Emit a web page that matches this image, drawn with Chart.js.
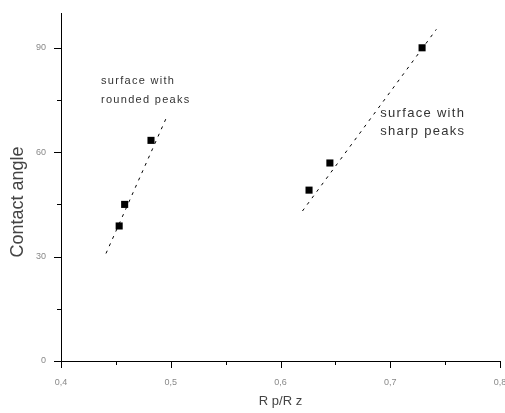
<!DOCTYPE html>
<html><head><meta charset="utf-8">
<script src="https://cdn.jsdelivr.net/npm/chart.js@4/dist/chart.umd.min.js"></script>
<style>html,body{margin:0;padding:0;background:#fff}#wrap{width:505px;height:413px}</style>
</head><body><div id="wrap"><canvas id="c" width="505" height="413"></canvas></div>
<script>
// Data
const roundedX = [0.453, 0.458, 0.482];
const roundedY = [38.8, 45.0, 63.4];
const roundedFitX = [0.441, 0.497];
const roundedFitY = [30.9, 70.6];
const sharpX = [0.626, 0.645, 0.729];
const sharpY = [49.1, 56.9, 90.0];
const sharpFitX = [0.620, 0.742];
const sharpFitY = [43.1, 95.3];
const xTicks = [0.4, 0.5, 0.6, 0.7, 0.8];
const yTicks = [0, 30, 60, 90];
const labels = [
  {text: 'surface with', x: 0.4364, y: 80.5, size: 11},
  {text: 'rounded peaks', x: 0.4364, y: 75.0, size: 11},
  {text: 'surface with', x: 0.6909, y: 71.0, size: 13},
  {text: 'sharp peaks', x: 0.6909, y: 66.1, size: 13}
];

const pts = (xs, ys) => xs.map((x, i) => ({x, y: ys[i]}));

const tickPlugin = {
  id: 'ticksAndLabels',
  afterDraw(chart) {
    const ctx = chart.ctx, xs = chart.scales.x, ys = chart.scales.y;
    const a = chart.chartArea;
    ctx.save();
    ctx.strokeStyle = '#000'; ctx.lineWidth = 1;
    for (let v = 0.4; v <= 0.8001; v += 0.05) {
      const major = Math.abs(Math.round(v * 10) - v * 10) < 1e-6;
      const px = Math.round(xs.getPixelForValue(v)) + 0.5;
      ctx.beginPath(); ctx.moveTo(px, a.bottom); ctx.lineTo(px, a.bottom + (major ? 7 : 4)); ctx.stroke();
    }
    for (let v = 0; v <= 90.001; v += 15) {
      const major = v % 30 === 0;
      const py = Math.round(ys.getPixelForValue(v)) + 0.5;
      ctx.beginPath(); ctx.moveTo(a.left, py); ctx.lineTo(a.left - (major ? 7 : 4), py); ctx.stroke();
    }
    ctx.fillStyle = '#333';
    ctx.letterSpacing = '1.3px';
    ctx.textBaseline = 'middle'; ctx.textAlign = 'left';
    labels.forEach(l => {
      ctx.font = l.size + 'px "Liberation Sans", Arial, sans-serif';
      ctx.fillText(l.text, xs.getPixelForValue(l.x), ys.getPixelForValue(l.y));
    });
    ctx.restore();
  }
};

new Chart(document.getElementById('c'), {
  type: 'scatter',
  data: {
    datasets: [
      {data: pts(roundedFitX, roundedFitY), showLine: true, borderColor: '#000', borderWidth: 1, borderDash: [3, 5], pointRadius: 0},
      {data: pts(sharpFitX, sharpFitY), showLine: true, borderColor: '#000', borderWidth: 1, borderDash: [3, 5], pointRadius: 0},
      {data: pts(roundedX, roundedY), pointStyle: 'rect', pointRadius: 5, backgroundColor: '#000', borderColor: '#000', borderWidth: 0},
      {data: pts(sharpX, sharpY), pointStyle: 'rect', pointRadius: 5, backgroundColor: '#000', borderColor: '#000', borderWidth: 0}
    ]
  },
  options: {
    responsive: false, animation: false,
    layout: {padding: {top: 13, right: 5, left: 0, bottom: 0}},
    plugins: {legend: {display: false}, tooltip: {enabled: false}},
    scales: {
      x: {
        type: 'linear', min: 0.4, max: 0.8,
        afterBuildTicks: s => { s.ticks = xTicks.map(v => ({value: v})); },
        afterFit: s => { s.paddingLeft = 0; s.paddingRight = 0; s.height = 52; },
        grid: {display: false},
        border: {display: true, color: '#000', width: 1},
        ticks: {padding: 8, color: '#888', font: {family: '"Liberation Sans", Arial', size: 9},
          callback: v => v.toFixed(1).replace('.', ','), maxRotation: 0},
        title: {display: true, text: 'R p/R z', color: '#444', font: {family: '"Liberation Sans", Arial', size: 13}, padding: {top: 0, bottom: 4}}
      },
      y: {
        type: 'linear', min: 0, max: 100,
        afterBuildTicks: s => { s.ticks = yTicks.map(v => ({value: v})); },
        afterFit: s => { s.paddingTop = 0; s.paddingBottom = 0; s.width = 61; },
        grid: {display: false},
        border: {display: true, color: '#000', width: 1},
        ticks: {padding: 7, color: '#888', font: {family: '"Liberation Sans", Arial', size: 9}},
        title: {display: true, text: 'Contact angle      ', color: '#444', font: {family: '"Liberation Sans", Arial', size: 18}, padding: {top: 7, bottom: 0}}
      }
    }
  },
  plugins: [tickPlugin]
});
</script></body></html>
